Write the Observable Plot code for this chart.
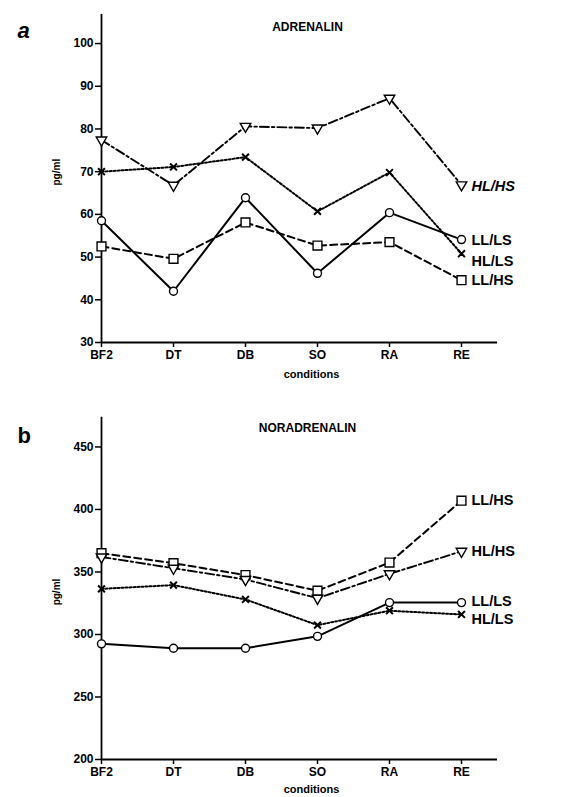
<!DOCTYPE html>
<html><head><meta charset="utf-8">
<script src="https://cdn.jsdelivr.net/npm/d3@7"></script>
<script src="https://cdn.jsdelivr.net/npm/@observablehq/plot@0.6"></script>
<style>
html,body{margin:0;padding:0;background:#fff;}
#chart{width:579px;height:797px;overflow:hidden;}
#chart svg{display:block;}
</style></head><body><div id="chart"></div>
<script>
const conditions = ["BF2", "DT", "DB", "SO", "RA", "RE"];
const seriesNames = ["LL/LS", "LL/HS", "HL/LS", "HL/HS"];

// Panel a: ADRENALIN (pg/ml)
const adrenalinLLLS = [58.5, 42.0, 63.9, 46.2, 60.4, 54.1];
const adrenalinLLHS = [52.5, 49.6, 58.1, 52.7, 53.5, 44.6];
const adrenalinHLLS = [70.0, 71.1, 73.4, 60.7, 69.8, 50.8];
const adrenalinHLHS = [77.4, 66.8, 80.6, 80.2, 87.2, 66.9];
const adrenalinTicks = [30, 40, 50, 60, 70, 80, 90, 100];

// Panel b: NORADRENALIN (pg/ml)
const noradrenalinLLLS = [292.5, 289, 289, 298.5, 325.5, 325.5];
const noradrenalinLLHS = [365, 357, 347.5, 335, 357.5, 407];
const noradrenalinHLLS = [336.5, 339.5, 328, 307.5, 319, 316];
const noradrenalinHLHS = [362, 353, 344, 329, 348.5, 366.5];
const noradrenalinTicks = [200, 250, 300, 350, 400, 450];

function toRows(bySeries) {
  const out = [];
  for (const s of seriesNames) bySeries[s].forEach((v, i) => out.push({series: s, condition: conditions[i], value: v}));
  return out;
}

const seriesStyle = {
  "LL/LS": {symbol: "circle", r: 4, rotate: 0, dash: null, width: 2},
  "LL/HS": {symbol: "square", r: 5, rotate: 0, dash: "7,4", width: 2},
  "HL/LS": {symbol: "times", r: 3.2, rotate: 0, dash: "2,2", width: 2},
  "HL/HS": {symbol: "triangle", r: 3.9, rotate: 180, dash: "9,3,2.5,3", width: 1.9}
};

const FONT = "'Liberation Sans', Arial, Helvetica, sans-serif";

function panel(o) {
  const rows = toRows(o.data);
  const marks = [
    Plot.ruleY([o.domain[0]], {stroke: "black", strokeWidth: 1.8}),
    Plot.ruleX([conditions[0]], {stroke: "black", strokeWidth: 1.8}),
    Plot.axisY(o.ticks, {tickSize: 6, tickPadding: 2, strokeWidth: 1.5, label: null, fontSize: 12, fontWeight: "bold"}),
    Plot.axisX({tickSize: 5, tickPadding: 3, strokeWidth: 1.5, label: null, fontSize: 12, fontWeight: "bold"})
  ];
  for (const s of seriesNames) {
    const st = seriesStyle[s];
    const d = rows.filter(r => r.series === s);
    marks.push(Plot.line(d, {x: "condition", y: "value", stroke: "black", strokeWidth: st.width, strokeDasharray: st.dash}));
  }
  for (const s of seriesNames) {
    const st = seriesStyle[s];
    const d = rows.filter(r => r.series === s);
    marks.push(Plot.dot(d, {x: "condition", y: "value", symbol: st.symbol, r: st.r, rotate: st.rotate, fill: "white", stroke: "black", strokeWidth: st.symbol === "times" ? 2 : 1.4}));
    marks.push(Plot.text(d.slice(-1), {x: "condition", y: "value", text: "series", textAnchor: "start", dx: 10, dy: o.labelDy[s], fontSize: 14.5, fontWeight: "bold", fontStyle: o.italic[s] ? "italic" : "normal"}));
  }
  marks.push(
    Plot.text([o.title], {frameAnchor: "top", dx: 8, dy: o.titleDy, fontSize: 12, fontWeight: "bold"}),
    Plot.text([o.letter], {frameAnchor: "top-left", dx: -84, dy: o.letterDy, fontSize: 22, fontWeight: "bold", fontStyle: o.letterItalic ? "italic" : "normal"}),
    Plot.text(["pg/ml"], {frameAnchor: "left", rotate: -90, dx: -45, dy: o.ylabDy, fontSize: 10, fontWeight: "bold"}),
    Plot.text(["conditions"], {frameAnchor: "bottom", dx: 12, dy: o.xlabDy, fontSize: 11, fontWeight: "bold"})
  );
  return Plot.plot({
    width: 579,
    height: o.height,
    marginLeft: 101,
    marginRight: 82,
    marginTop: o.marginTop,
    marginBottom: o.marginBottom,
    style: {fontFamily: FONT, color: "black", background: "white", overflow: "visible"},
    x: {type: "point", domain: conditions, padding: 0.2425, align: 0},
    y: {domain: o.domain},
    marks
  });
}

const chart = document.getElementById("chart");
chart.append(panel({
  data: {"LL/LS": adrenalinLLLS, "LL/HS": adrenalinLLHS, "HL/LS": adrenalinHLLS, "HL/HS": adrenalinHLHS},
  ticks: adrenalinTicks, domain: [30, 106.8],
  height: 385, marginTop: 14, marginBottom: 43,
  title: "ADRENALIN", titleDy: 8, letter: "a", letterDy: 8, letterItalic: true,
  ylabDy: 7, xlabDy: 35,
  labelDy: {"LL/LS": 1, "LL/HS": 0, "HL/LS": 8, "HL/HS": 1},
  italic: {"HL/HS": true}
}));
chart.append(panel({
  data: {"LL/LS": noradrenalinLLLS, "LL/HS": noradrenalinLLHS, "HL/LS": noradrenalinHLLS, "HL/HS": noradrenalinHLHS},
  ticks: noradrenalinTicks, domain: [200, 473.8],
  height: 412, marginTop: 31.7, marginBottom: 38,
  title: "NORADRENALIN", titleDy: 6, letter: "b", letterDy: 10, letterItalic: false,
  ylabDy: 17, xlabDy: 33,
  labelDy: {"LL/LS": -1, "LL/HS": 0, "HL/LS": 5, "HL/HS": 0},
  italic: {}
}));
</script></body></html>
